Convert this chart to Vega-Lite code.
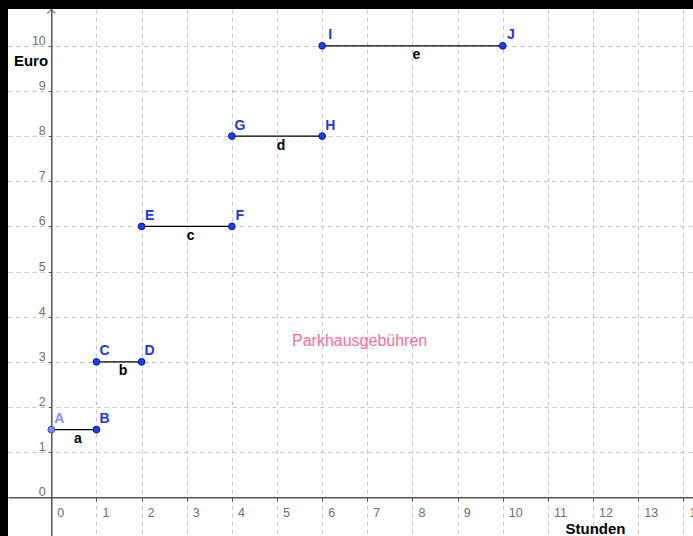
{
  "$schema": "https://vega.github.io/schema/vega-lite/v6.json",
  "width": 685,
  "height": 527,
  "autosize": {"type": "none"},
  "padding": {"left": 8, "top": 9, "right": 0, "bottom": 0},
  "background": "black",
  "config": {"view": {"fill": "white", "stroke": null}, "font": "Liberation Sans"},
  "datasets": {
    "points": [
      {"name": "A", "x": 0, "y": 1.5, "kind": "frei"},
      {"name": "B", "x": 1, "y": 1.5, "kind": "fix"},
      {"name": "C", "x": 1, "y": 3, "kind": "fix"},
      {"name": "D", "x": 2, "y": 3, "kind": "fix"},
      {"name": "E", "x": 2, "y": 6, "kind": "fix"},
      {"name": "F", "x": 4, "y": 6, "kind": "fix"},
      {"name": "G", "x": 4, "y": 8, "kind": "fix"},
      {"name": "H", "x": 6, "y": 8, "kind": "fix"},
      {"name": "I", "x": 6, "y": 10, "kind": "fix"},
      {"name": "J", "x": 10, "y": 10, "kind": "fix"}
    ],
    "segments": [
      {"seg": "a", "x1": 0, "x2": 1, "mx": 0.5, "y": 1.5},
      {"seg": "b", "x1": 1, "x2": 2, "mx": 1.5, "y": 3},
      {"seg": "c", "x1": 2, "x2": 4, "mx": 3, "y": 6},
      {"seg": "d", "x1": 4, "x2": 6, "mx": 5, "y": 8},
      {"seg": "e", "x1": 6, "x2": 10, "mx": 8, "y": 10}
    ],
    "notes": [{"text": "Parkhausgebühren", "x": 5.331, "y": 3.351}],
    "arrow": [{"x": 0, "y": 10.804}]
  },
  "layer": [
    {
      "data": {"name": "segments"},
      "mark": {"type": "rule", "color": "black", "strokeWidth": 1.3},
      "encoding": {
        "x": {
          "field": "x1", "type": "quantitative",
          "scale": {"domain": [-0.959, 14.213], "nice": false, "zero": false},
          "axis": {
            "offset": -38.7,
            "values": [0, 1, 2, 3, 4, 5, 6, 7, 8, 9, 10, 11, 12, 13, 14],
            "grid": true, "gridColor": "#c4c4c4", "gridDash": [4, 4], "gridWidth": 1,
            "domainColor": "#555555", "domainWidth": 1.5,
            "tickColor": "#555555", "tickSize": 4, "tickWidth": 1,
            "labelAlign": "left", "labelBaseline": "top", "labelOffset": 5.5, "labelPadding": 5,
            "labelFontSize": 12.5, "labelColor": "#707070", "labelFont": "Liberation Sans",
            "labelOverlap": false, "labelBound": false, "labelFlush": false,
            "title": "Stunden", "titleX": 587, "titleY": 31, "titleAlign": "center", "titleBaseline": "middle",
            "titleFontSize": 15, "titleFontWeight": "bold", "titleColor": "black", "titleFont": "Liberation Sans"
          }
        },
        "x2": {"field": "x2"},
        "y": {
          "field": "y", "type": "quantitative",
          "scale": {"domain": [-0.857, 10.815], "nice": false, "zero": false},
          "axis": {
            "offset": -43.3,
            "values": [0, 1, 2, 3, 4, 5, 6, 7, 8, 9, 10],
            "grid": true, "gridColor": "#c4c4c4", "gridDash": [4, 4], "gridWidth": 1,
            "domainColor": "#555555", "domainWidth": 1.5,
            "tickColor": "#555555", "tickSize": 3, "tickWidth": 1,
            "labelAlign": "right", "labelBaseline": "alphabetic", "labelOffset": -1.5, "labelPadding": 3,
            "labelFontSize": 12.5, "labelColor": "#707070", "labelFont": "Liberation Sans",
            "labelOverlap": false, "labelBound": false, "labelFlush": false,
            "title": "Euro", "titleAngle": 0, "titleX": -20.8, "titleY": 51, "titleAlign": "center", "titleBaseline": "middle",
            "titleFontSize": 15, "titleFontWeight": "bold", "titleColor": "black", "titleFont": "Liberation Sans"
          }
        }
      }
    },
    {
      "data": {"name": "segments"},
      "mark": {"type": "text", "dx": 4, "dy": 13.5, "baseline": "alphabetic", "align": "center", "fontSize": 14, "fontWeight": "bold", "color": "black", "font": "Liberation Sans"},
      "encoding": {
        "x": {"field": "mx", "type": "quantitative"},
        "y": {"field": "y", "type": "quantitative"},
        "text": {"field": "seg"}
      }
    },
    {
      "data": {"name": "arrow"},
      "mark": {"type": "point", "shape": "M -1 1 L 0 0 L 1 1", "filled": false, "size": 64, "stroke": "#555555", "strokeWidth": 1.3, "clip": false},
      "encoding": {
        "x": {"field": "x", "type": "quantitative"},
        "y": {"field": "y", "type": "quantitative"}
      }
    },
    {
      "data": {"name": "points"},
      "mark": {"type": "point", "filled": true, "shape": "circle", "size": 45, "strokeWidth": 1, "opacity": 1},
      "encoding": {
        "x": {"field": "x", "type": "quantitative"},
        "y": {"field": "y", "type": "quantitative"},
        "fill": {"field": "kind", "type": "nominal", "scale": {"domain": ["frei", "fix"], "range": ["#7b8cff", "#1f3cf0"]}, "legend": null},
        "stroke": {"field": "kind", "type": "nominal", "scale": {"domain": ["frei", "fix"], "range": ["#3a4ab0", "#0a1a90"]}, "legend": null}
      }
    },
    {
      "data": {"name": "points"},
      "mark": {"type": "text", "dx": 8, "dy": -6.5, "baseline": "alphabetic", "align": "center", "fontSize": 14, "fontWeight": "bold", "font": "Liberation Sans"},
      "encoding": {
        "x": {"field": "x", "type": "quantitative"},
        "y": {"field": "y", "type": "quantitative"},
        "text": {"field": "name"},
        "color": {"field": "kind", "type": "nominal", "scale": {"domain": ["frei", "fix"], "range": ["#8a8aff", "#1c36e6"]}, "legend": null}
      }
    },
    {
      "data": {"name": "notes"},
      "mark": {"type": "text", "align": "left", "baseline": "alphabetic", "fontSize": 16, "color": "#ff6b9b", "font": "Liberation Sans"},
      "encoding": {
        "x": {"field": "x", "type": "quantitative"},
        "y": {"field": "y", "type": "quantitative"},
        "text": {"field": "text"}
      }
    }
  ]
}
